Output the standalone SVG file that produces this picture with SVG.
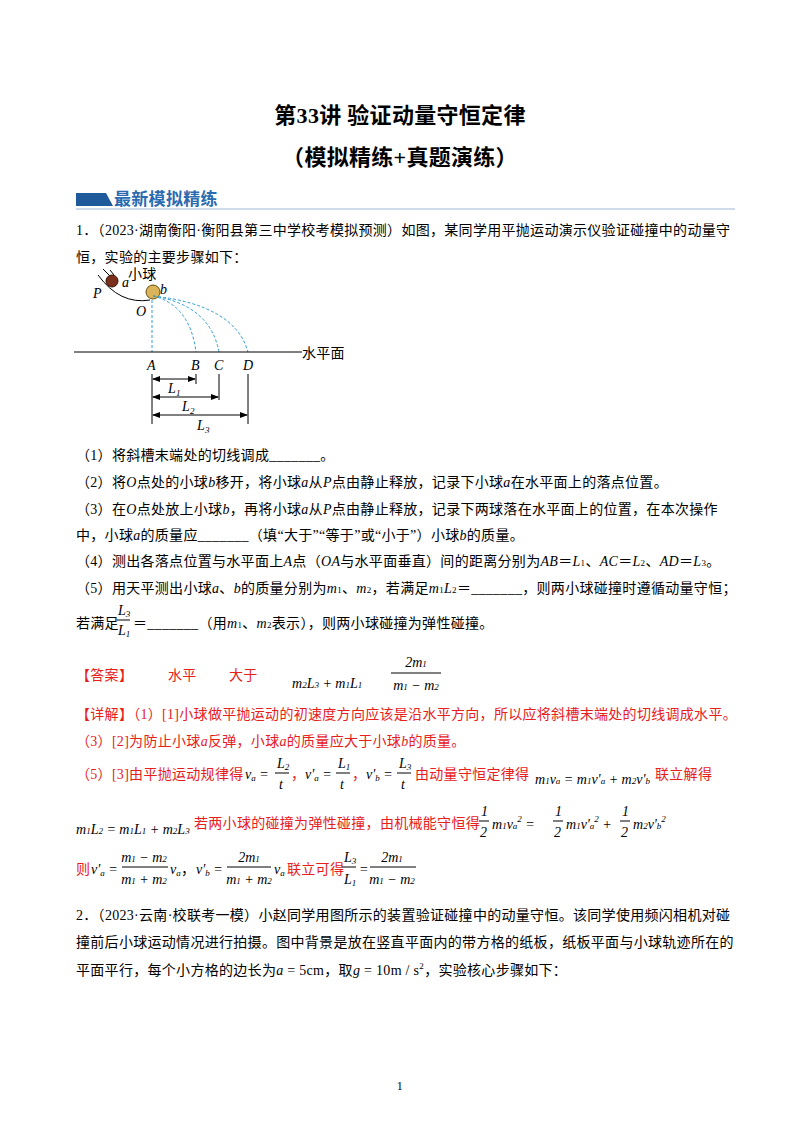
<svg xmlns="http://www.w3.org/2000/svg" width="800" height="1132" viewBox="0 0 800 1132">
<style>
text{font-family:"Liberation Serif","Noto Sans CJK SC",serif;font-size:14px;fill:#000;letter-spacing:0.3px}
.t{font-size:22px;font-weight:bold;text-anchor:middle}
.r{fill:#e8201c}
.i{font-style:italic}
.s{font-size:9px}
.m{font-family:"Liberation Serif",serif;font-style:italic;font-size:14px;letter-spacing:0}
.dash{stroke:#2f9ed6;stroke-width:1;stroke-dasharray:3,2;fill:none}
.ln{stroke:#000;stroke-width:1;fill:none}
</style>
<defs><marker id="ar" markerWidth="8" markerHeight="6" refX="7" refY="3" orient="auto-start-reverse"><path d="M0,0L8,3L0,6z" fill="#000"/></marker></defs>
<rect width="800" height="1132" fill="#fff"/>
<text class="t" x="400" y="123">第33讲  验证动量守恒定律</text>
<text class="t" x="400" y="165">（模拟精练+真题演练）</text>
<g id="banner"><path d="M76,193H106L113,206H76Z" fill="#1f5b9a"/><text x="114" y="205" style="font-size:17px;font-weight:bold;fill:#2b6cb0">最新模拟精练</text><line x1="76" y1="209" x2="735" y2="209" stroke="#9fb8d8" stroke-width="1"/></g>
<text x="76" y="235">1．（2023·湖南衡阳·衡阳县第三中学校考模拟预测）如图，某同学用平抛运动演示仪验证碰撞中的动量守</text>
<text x="76" y="262">恒，实验的主要步骤如下：</text>
<g id="figure">
<path d="M98,275Q120,305 150,300" class="ln"/>
<line x1="103" y1="269" x2="110" y2="276" class="ln"/><line x1="110" y1="270" x2="114" y2="275" class="ln"/>
<circle cx="112" cy="281" r="6" fill="#7a2e1c" stroke="#3a1208"/>
<circle cx="153" cy="292" r="7" fill="#d9b45a" stroke="#6a5010"/>
<text x="93" y="298" class="i">P</text><text x="122" y="287" class="i">a</text><text x="128" y="279">小球</text><text x="160" y="294" class="i">b</text><text x="136" y="316" class="i">O</text>
<line x1="152" y1="300" x2="152" y2="352" class="dash"/>
<path d="M153,296Q190,305 196,352" class="dash"/>
<path d="M153,296Q210,305 219,352" class="dash"/>
<path d="M153,296Q235,305 248,352" class="dash"/>
<line x1="74" y1="352" x2="302" y2="352" class="ln"/>
<text x="302" y="358">水平面</text>
<text x="147" y="370" class="i">A</text><text x="191" y="370" class="i">B</text><text x="214" y="370" class="i">C</text><text x="243" y="370" class="i">D</text>
<line x1="152" y1="374" x2="152" y2="424" class="ln"/>
<line x1="196" y1="374" x2="196" y2="384" class="ln"/>
<line x1="219" y1="374" x2="219" y2="400" class="ln"/>
<line x1="248" y1="374" x2="248" y2="424" class="ln"/>
<line x1="153" y1="379" x2="195" y2="379" class="ln" marker-start="url(#ar)" marker-end="url(#ar)"/>
<line x1="153" y1="397" x2="218" y2="397" class="ln" marker-start="url(#ar)" marker-end="url(#ar)"/>
<line x1="153" y1="415" x2="247" y2="415" class="ln" marker-start="url(#ar)" marker-end="url(#ar)"/>
<text x="168" y="393" class="i">L<tspan class="s" dy="3">1</tspan></text>
<text x="182" y="411" class="i">L<tspan class="s" dy="3">2</tspan></text>
<text x="197" y="430" class="i">L<tspan class="s" dy="3">3</tspan></text>
</g>
<text x="76" y="460">（1）将斜槽末端处的切线调成_______。</text>
<text x="76" y="487">（2）将<tspan class="i">O</tspan>点处的小球<tspan class="i">b</tspan>移开，将小球<tspan class="i">a</tspan>从<tspan class="i">P</tspan>点由静止释放，记录下小球<tspan class="i">a</tspan>在水平面上的落点位置。</text>
<text x="76" y="514">（3）在<tspan class="i">O</tspan>点处放上小球<tspan class="i">b</tspan>，再将小球<tspan class="i">a</tspan>从<tspan class="i">P</tspan>点由静止释放，记录下两球落在水平面上的位置，在本次操作</text>
<text x="76" y="540">中，小球<tspan class="i">a</tspan>的质量应_______（填“大于”“等于”或“小于”）小球<tspan class="i">b</tspan>的质量。</text>
<text x="76" y="566">（4）测出各落点位置与水平面上<tspan class="i">A</tspan>点（<tspan class="i">OA</tspan>与水平面垂直）间的距离分别为<tspan class="i">AB</tspan>＝<tspan class="i">L</tspan><tspan class="s">1</tspan>、<tspan class="i">AC</tspan>＝<tspan class="i">L</tspan><tspan class="s">2</tspan>、<tspan class="i">AD</tspan>＝<tspan class="i">L</tspan><tspan class="s">3</tspan>。</text>
<text x="76" y="593">（5）用天平测出小球<tspan class="i">a</tspan>、<tspan class="i">b</tspan>的质量分别为<tspan class="i">m</tspan><tspan class="s">1</tspan>、<tspan class="i">m</tspan><tspan class="s">2</tspan>，若满足<tspan class="i">m</tspan><tspan class="s">1</tspan><tspan class="i">L</tspan><tspan class="s">2</tspan>＝_______，则两小球碰撞时遵循动量守恒；</text>
<text x="76" y="628">若满足</text>
<text x="118" y="615" class="m">L<tspan class="s" dy="2">3</tspan></text><line x1="117" y1="620" x2="130" y2="620" class="ln"/><text x="118" y="635" class="m">L<tspan class="s" dy="2">1</tspan></text>
<text x="133" y="628">＝_______（用<tspan class="i">m</tspan><tspan class="s">1</tspan>、<tspan class="i">m</tspan><tspan class="s">2</tspan>表示），则两小球碰撞为弹性碰撞。</text>
<g id="answer">
<text x="76" y="680" class="r">【答案】</text><text x="168" y="680" class="r">水平</text><text x="229" y="680" class="r">大于</text>
<text x="292" y="688" class="m">m<tspan class="s">2</tspan>L<tspan class="s">3</tspan> + m<tspan class="s">1</tspan>L<tspan class="s">1</tspan></text>
<text x="416" y="667" class="m" text-anchor="middle">2m<tspan class="s">1</tspan></text><line x1="391" y1="673" x2="441" y2="673" class="ln"/><text x="416" y="690" class="m" text-anchor="middle">m<tspan class="s">1</tspan> − m<tspan class="s">2</tspan></text>
<text x="76" y="719" class="r">【详解】（1）[1]小球做平抛运动的初速度方向应该是沿水平方向，所以应将斜槽末端处的切线调成水平。</text>
<text x="76" y="746" class="r">（3）[2]为防止小球<tspan class="i">a</tspan>反弹，小球<tspan class="i">a</tspan>的质量应大于小球<tspan class="i">b</tspan>的质量。</text>
<text x="76" y="779" class="r">（5）[3]由平抛运动规律得</text>
<text x="245" y="779" class="m">v<tspan class="s" dy="2">a</tspan><tspan dy="-2"> =</tspan></text>
<text x="277" y="768" class="m">L<tspan class="s" dy="2">2</tspan></text><line x1="275" y1="773" x2="289" y2="773" class="ln"/><text x="279" y="789" class="m">t</text>
<text x="291" y="779" class="r">，</text>
<text x="305" y="779" class="m">v'<tspan class="s" dy="2">a</tspan><tspan dy="-2"> =</tspan></text>
<text x="338" y="768" class="m">L<tspan class="s" dy="2">1</tspan></text><line x1="336" y1="773" x2="350" y2="773" class="ln"/><text x="340" y="789" class="m">t</text>
<text x="352" y="779" class="r">，</text>
<text x="366" y="779" class="m">v'<tspan class="s" dy="2">b</tspan><tspan dy="-2"> =</tspan></text>
<text x="399" y="768" class="m">L<tspan class="s" dy="2">3</tspan></text><line x1="397" y1="773" x2="411" y2="773" class="ln"/><text x="401" y="789" class="m">t</text>
<text x="415" y="779" class="r">由动量守恒定律得</text>
<text x="535" y="784" class="m">m<tspan class="s">1</tspan>v<tspan class="s">a</tspan> = m<tspan class="s">1</tspan>v'<tspan class="s">a</tspan> + m<tspan class="s">2</tspan>v'<tspan class="s">b</tspan></text>
<text x="655" y="779" class="r">联立解得</text>
<text x="76" y="834" class="m">m<tspan class="s">1</tspan>L<tspan class="s">2</tspan> = m<tspan class="s">1</tspan>L<tspan class="s">1</tspan> + m<tspan class="s">2</tspan>L<tspan class="s">3</tspan></text>
<text x="194" y="828" class="r">若两小球的碰撞为弹性碰撞，由机械能守恒得</text>
<text x="481" y="816" class="m">1</text><line x1="479" y1="821" x2="489" y2="821" class="ln"/><text x="480" y="837" class="m">2</text>
<text x="492" y="829" class="m">m<tspan class="s">1</tspan>v<tspan class="s">a</tspan><tspan class="s" dy="-7">2</tspan><tspan dy="7"> =</tspan></text>
<text x="555" y="816" class="m">1</text><line x1="553" y1="821" x2="563" y2="821" class="ln"/><text x="554" y="837" class="m">2</text>
<text x="566" y="829" class="m">m<tspan class="s">1</tspan>v'<tspan class="s">a</tspan><tspan class="s" dy="-7">2</tspan><tspan dy="7"> +</tspan></text>
<text x="622" y="816" class="m">1</text><line x1="620" y1="821" x2="630" y2="821" class="ln"/><text x="621" y="837" class="m">2</text>
<text x="633" y="829" class="m">m<tspan class="s">2</tspan>v'<tspan class="s">b</tspan><tspan class="s" dy="-7">2</tspan></text>
<text x="76" y="874" class="r">则</text>
<text x="91" y="874" class="m">v'<tspan class="s" dy="2">a</tspan><tspan dy="-2"> =</tspan></text>
<text x="144" y="862" class="m" text-anchor="middle">m<tspan class="s">1</tspan> − m<tspan class="s">2</tspan></text><line x1="122" y1="867" x2="168" y2="867" class="ln"/><text x="144" y="884" class="m" text-anchor="middle">m<tspan class="s">1</tspan> + m<tspan class="s">2</tspan></text>
<text x="170" y="874" class="m">v<tspan class="s" dy="2">a</tspan></text><text x="181" y="874">，</text>
<text x="196" y="874" class="m">v'<tspan class="s" dy="2">b</tspan><tspan dy="-2"> =</tspan></text>
<text x="249" y="862" class="m" text-anchor="middle">2m<tspan class="s">1</tspan></text><line x1="227" y1="867" x2="271" y2="867" class="ln"/><text x="249" y="884" class="m" text-anchor="middle">m<tspan class="s">1</tspan> + m<tspan class="s">2</tspan></text>
<text x="274" y="874" class="m">v<tspan class="s" dy="2">a</tspan></text>
<text x="287" y="874" class="r">联立可得</text>
<text x="344" y="862" class="m">L<tspan class="s" dy="2">3</tspan></text><line x1="342" y1="867" x2="356" y2="867" class="ln"/><text x="344" y="884" class="m">L<tspan class="s" dy="2">1</tspan></text>
<text x="359" y="874" class="m">=</text>
<text x="392" y="862" class="m" text-anchor="middle">2m<tspan class="s">1</tspan></text><line x1="370" y1="867" x2="416" y2="867" class="ln"/><text x="392" y="884" class="m" text-anchor="middle">m<tspan class="s">1</tspan> − m<tspan class="s">2</tspan></text>
</g>
<text x="76" y="920">2．（2023·云南·校联考一模）小赵同学用图所示的装置验证碰撞中的动量守恒。该同学使用频闪相机对碰</text>
<text x="76" y="947">撞前后小球运动情况进行拍摄。图中背景是放在竖直平面内的带方格的纸板，纸板平面与小球轨迹所在的</text>
<text x="76" y="975">平面平行，每个小方格的边长为<tspan class="i">a</tspan> = 5cm，取<tspan class="i">g</tspan> = 10m / s<tspan class="s" dy="-6">2</tspan><tspan dy="6">，实验核心步骤如下：</tspan></text>
<text x="400" y="1090" style="font-size:12px" text-anchor="middle">1</text>
</svg>
